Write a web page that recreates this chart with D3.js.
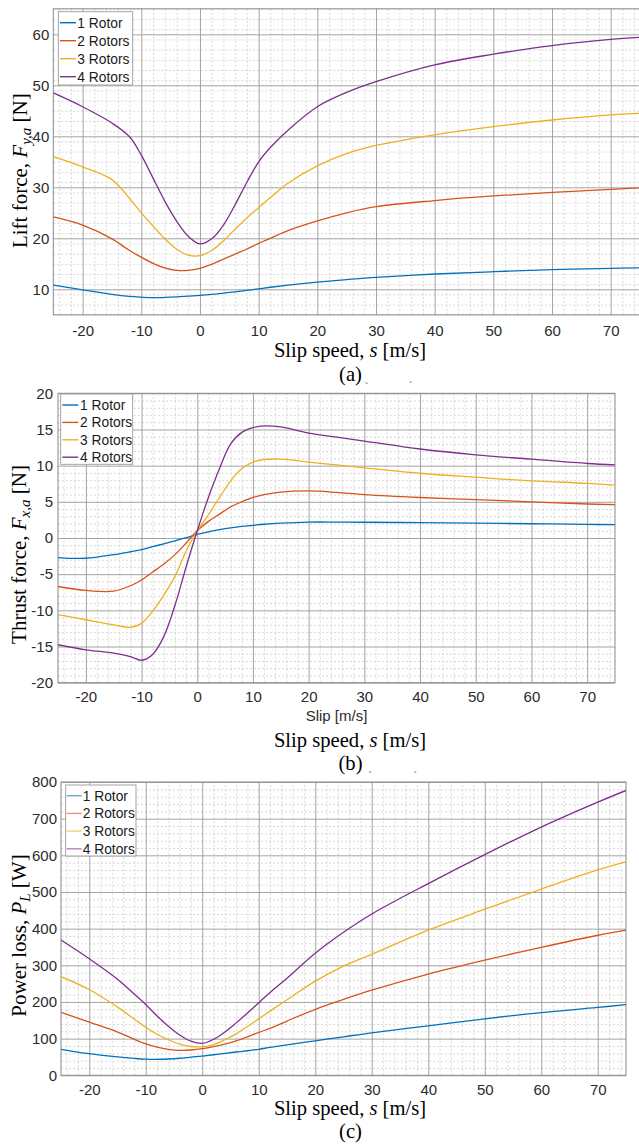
<!DOCTYPE html>
<html><head><meta charset="utf-8">
<script src="https://cdn.jsdelivr.net/npm/d3@7/dist/d3.min.js"></script>
<style>body{margin:0;background:#fff}svg{display:block}</style>
</head><body>
<svg id="chart" width="639" height="1146"></svg>
<script>
// ---------- data ----------
const slip = [-25,-20,-15,-12,-10,-8,-6,-4,-2,0,2,4,6,8,10,12,15,20,25,30,40,50,60,70,75];
const seriesNames = ["1 Rotor","2 Rotors","3 Rotors","4 Rotors"];

const lift1 = [10.8,9.9,9.0,8.6,8.45,8.35,8.4,8.5,8.65,8.8,9.0,9.25,9.5,9.8,10.1,10.4,10.8,11.4,11.9,12.35,13.0,13.45,13.85,14.1,14.2];
const lift2 = [24.2,22.6,19.9,17.6,16.3,15.1,14.2,13.7,13.7,14.1,14.9,15.9,16.9,17.9,19.0,20.0,21.5,23.4,25.0,26.2,27.4,28.3,29.0,29.6,29.9];
const lift3 = [36.0,34.0,31.5,27.8,25.0,22.4,19.9,17.9,16.7,16.6,17.6,19.5,21.8,24.0,26.0,28.0,30.8,34.2,36.6,38.2,40.3,41.9,43.2,44.2,44.5];
const lift4 = [48.5,45.8,42.6,39.9,36.3,31.8,27.3,23.4,20.4,18.9,19.9,22.6,26.6,31.0,35.0,37.8,41.2,45.8,48.6,50.7,54.0,56.1,57.8,59.0,59.4];

const thrust1 = [-2.7,-2.8,-2.3,-1.9,-1.6,-1.2,-0.8,-0.4,0.05,0.5,0.85,1.15,1.4,1.6,1.75,1.9,2.05,2.2,2.2,2.18,2.12,2.05,1.97,1.88,1.84];
const thrust2 = [-6.7,-7.25,-7.35,-6.6,-5.8,-4.7,-3.6,-2.3,-0.7,1.0,2.3,3.3,4.3,5.0,5.6,6.0,6.35,6.5,6.3,6.0,5.6,5.3,5.0,4.7,4.6];
const thrust3 = [-10.6,-11.3,-12.0,-12.35,-11.8,-10.1,-7.9,-5.3,-1.8,1.0,3.2,5.6,7.9,9.6,10.5,10.85,10.9,10.5,10.1,9.7,8.95,8.4,7.9,7.55,7.3];
const thrust4 = [-14.75,-15.45,-15.9,-16.4,-16.9,-16.1,-13.6,-9.3,-4.0,1.0,5.6,9.6,13.0,14.6,15.25,15.5,15.35,14.5,13.95,13.4,12.3,11.5,10.9,10.3,10.1];

const power1 = [71,59,50,46,44,43.5,44.5,46.5,49.5,52.5,56,60,63.5,67,71,76,83,94,105,116,135,154,171,185,193];
const power2 = [172,145,118,98,86,77,71,68,69,72.5,78,85,94,105,117,128,148,180,207,232,276,314,349,382,396];
const power3 = [269,234,186,153,131,112,97,85,78.5,78,84,97,113,133,154,175,206,257,298,330,396,453,508,560,582];
const power4 = [369,318,262,221,193,162,134,110,93,87,98,118,143,170,198,226,265,333,390,440,523,602,677,745,777];

const xTicks = [-20,-10,0,10,20,30,40,50,60,70];
const liftTicks = [10,20,30,40,50,60];
const thrustTicks = [-20,-15,-10,-5,0,5,10,15,20];
const powerTicks = [0,100,200,300,400,500,600,700,800];

// ---------- styles / layout ----------
const colors = ["#0072BD","#D95319","#EDB120","#7E2F8E"];
const SANS = "'Liberation Sans', Arial, sans-serif";
const SERIF = "'Liberation Serif', 'Times New Roman', serif";
const svg = d3.select("#chart");
svg.append("rect").attr("width",639).attr("height",1146).attr("fill","#fff");

const panels = [
  { id:"a", series:[lift1,lift2,lift3,lift4], yDomain:[5,65], yTicks:liftTicks, yMinor:2,
    xr:[53.3,640], yr:[314.8,8.8], xPad:10.3, yPad:4,
    legend:{x:58.3,y:11.7,w:74.4,h:73.3,row0:22.7,step:18,l0:60,l1:76,tx:77.3,op:1},
    ylab:{x:26.5,y:170.7,main:"Lift force, ",sym:"F",sub:"y,a",unit:" [N]"},
    xlabY:357, capY:380.5, cap:"(a)", marks:[[366.7,390],[410.7,389]] },
  { id:"b", series:[thrust1,thrust2,thrust3,thrust4], yDomain:[-20,20], yTicks:thrustTicks, yMinor:1,
    xr:[58,615], yr:[682.7,393.3], xPad:8.3, yPad:5,
    legend:{x:60.7,y:394,w:72,h:70.3,row0:405,step:17.4,l0:62.3,l1:78.3,tx:80,op:1},
    ylab:{x:26,y:554.5,main:"Thrust force, ",sym:"F",sub:"x,a",unit:" [N]"},
    inner:{text:"Slip [m/s]",y:721},
    xlabY:746.5, capY:769.5, cap:"(b)", marks:[[370,779],[415,779]] },
  { id:"c", series:[power1,power2,power3,power4], yDomain:[0,800], yTicks:powerTicks, yMinor:20,
    xr:[61,626], yr:[1075.3,782], xPad:9.5, yPad:4,
    legend:{x:65.7,y:785,w:70.3,h:71,row0:795.7,step:17.7,l0:66.7,l1:81.7,tx:82.7,op:0.6},
    ylab:{x:26,y:935.5,main:"Power loss, ",sym:"P",sub:"L",unit:" [W]"},
    xlabY:1114.5, capY:1137.5, cap:"(c)", marks:[] }
];

panels.forEach(p => {
  const x = d3.scaleLinear().domain([-25,75]).range(p.xr);
  const y = d3.scaleLinear().domain(p.yDomain).range(p.yr);
  const g = svg.append("g");
  const W = p.xr[1]-p.xr[0], H = p.yr[0]-p.yr[1];

  // minor grid
  const xMinor = d3.range(-24,75,2).filter(v => v % 10 !== 0);
  const [y0,y1] = p.yDomain;
  const yMinorVals = d3.range(y0, y1+1e-9, p.yMinor).filter(v => !p.yTicks.some(t => Math.abs(t-v)<1e-9));
  const gxm = g.append("g").attr("transform",`translate(0,${p.yr[0]})`)
    .call(d3.axisBottom(x).tickValues(xMinor).tickSize(-H).tickFormat(""));
  const gym = g.append("g").attr("transform",`translate(${p.xr[0]},0)`)
    .call(d3.axisLeft(y).tickValues(yMinorVals).tickSize(-W).tickFormat(""));
  [gxm,gym].forEach(s => { s.select(".domain").remove();
    s.selectAll("line").attr("stroke","#cfcfcf").attr("stroke-width",0.8).attr("stroke-dasharray","2,2"); });

  // major grid
  const gxM = g.append("g").attr("transform",`translate(0,${p.yr[0]})`)
    .call(d3.axisBottom(x).tickValues(xTicks).tickSize(-H).tickFormat(""));
  const gyM = g.append("g").attr("transform",`translate(${p.xr[0]},0)`)
    .call(d3.axisLeft(y).tickValues(p.yTicks).tickSize(-W).tickFormat(""));
  [gxM,gyM].forEach(s => { s.select(".domain").remove();
    s.selectAll("line").attr("stroke","#9a9a9a").attr("stroke-width",0.9); });

  // frame
  g.append("rect").attr("x",p.xr[0]).attr("y",p.yr[1]).attr("width",W).attr("height",H)
    .attr("fill","none").attr("stroke","#8a8a8a").attr("stroke-width",1);

  // tick labels
  const ax = g.append("g").attr("transform",`translate(0,${p.yr[0]})`)
    .call(d3.axisBottom(x).tickValues(xTicks).tickSize(0).tickPadding(p.xPad).tickFormat(d3.format("d")));
  const ay = g.append("g").attr("transform",`translate(${p.xr[0]},0)`)
    .call(d3.axisLeft(y).tickValues(p.yTicks).tickSize(0).tickPadding(p.yPad).tickFormat(d3.format("d")));
  [ax,ay].forEach(s => { s.select(".domain").remove();
    s.selectAll("text").attr("font-family",SANS).attr("font-size","15px").attr("fill","#2b2b2b"); });
  ax.selectAll("text").text(d => d < 0 ? "-" + Math.abs(d) : d);
  ay.selectAll("text").text(d => d < 0 ? "-" + Math.abs(d) : d);

  // lines
  const clipId = "clip-" + p.id;
  svg.append("defs").append("clipPath").attr("id",clipId).append("rect")
    .attr("x",p.xr[0]).attr("y",p.yr[1]).attr("width",W).attr("height",H);
  const line = d3.line().x((d,i) => x(slip[i])).y(d => y(d)).curve(d3.curveCatmullRom.alpha(0.5));
  const lg = g.append("g").attr("clip-path",`url(#${clipId})`);
  p.series.forEach((s,i) => {
    lg.append("path").attr("d",line(s)).attr("fill","none")
      .attr("stroke",colors[i]).attr("stroke-width",1.3);
  });

  // legend
  const L = p.legend;
  g.append("rect").attr("x",L.x).attr("y",L.y).attr("width",L.w).attr("height",L.h)
    .attr("fill","#fff").attr("stroke","#9a9a9a").attr("stroke-width",0.9);
  seriesNames.forEach((n,i) => {
    const yy = L.row0 + i*L.step;
    g.append("line").attr("x1",L.l0).attr("x2",L.l1).attr("y1",yy).attr("y2",yy)
      .attr("stroke",colors[i]).attr("stroke-width",1.4).attr("stroke-opacity",L.op);
    g.append("text").attr("x",L.tx).attr("y",yy).attr("dy","0.36em")
      .attr("font-family",SANS).attr("font-size","13.8px").attr("fill","#1a1a1a").text(n);
  });

  // y label
  const yl = g.append("text").attr("transform",`translate(${p.ylab.x},${p.ylab.y}) rotate(-90)`)
    .attr("text-anchor","middle").attr("font-family",SERIF).attr("font-size","21px").attr("fill","#000");
  yl.append("tspan").text(p.ylab.main);
  yl.append("tspan").attr("font-style","italic").text(p.ylab.sym);
  yl.append("tspan").attr("font-style","italic").attr("font-size","15px").attr("dy",4).text(p.ylab.sub);
  yl.append("tspan").attr("dy",-4).text(p.ylab.unit);

  // inner x label (panel b)
  if (p.inner) {
    g.append("text").attr("x",(p.xr[0]+p.xr[1])/2).attr("y",p.inner.y).attr("text-anchor","middle")
      .attr("font-family",SANS).attr("font-size","15px").attr("fill","#2b2b2b").text(p.inner.text);
  }

  // x label + caption
  const xl = g.append("text").attr("x",350).attr("y",p.xlabY).attr("text-anchor","middle")
    .attr("font-family",SERIF).attr("font-size","20.6px").attr("fill","#000");
  xl.append("tspan").text("Slip speed, ");
  xl.append("tspan").attr("font-style","italic").text("s");
  xl.append("tspan").text(" [m/s]");
  g.append("text").attr("x",350.5).attr("y",p.capY).attr("text-anchor","middle")
    .attr("font-family",SERIF).attr("font-size","20.6px").attr("fill","#000").text(p.cap);
  p.marks.forEach((m,i) => {
    g.append("text").attr("x",m[0]).attr("y",m[1]).attr("text-anchor","middle")
      .attr("font-family",SERIF).attr("font-size","11px").attr("fill","#444").text(i===0?"`":"´");
  });
});
</script>
</body></html>
